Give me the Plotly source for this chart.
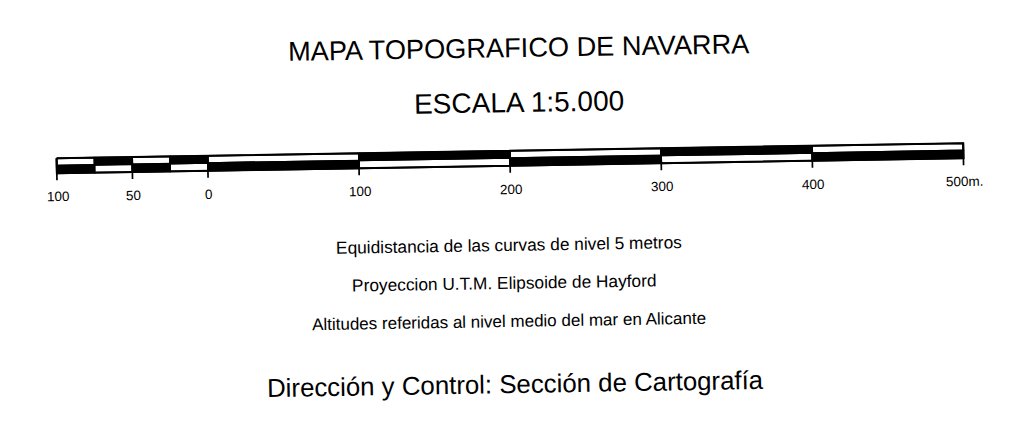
import math
import plotly.graph_objects as go

# ---------------- data ----------------
division_bounds = [-100, -75, -50, -25, 0, 100, 200, 300, 400, 500]
top_row_black = [0, 1, 0, 1, 0, 1, 0, 1, 0]          # bottom row is the opposite
tick_values = [-100, -50, 0, 100, 200, 300, 400, 500]
tick_labels = ["100", "50", "0", "100", "200", "300", "400", "500m."]

title_text = "MAPA TOPOGRAFICO DE NAVARRA"
scale_text = "ESCALA 1:5.000"
note_lines = [
    "Equidistancia de las curvas de nivel 5 metros",
    "Proyeccion U.T.M. Elipsoide de Hayford",
    "Altitudes referidas al nivel medio del mar en Alicante",
]
credit_text = "Dirección y Control: Sección de Cartografía"

# ---------------- geometry / style ----------------
W, H = 1023, 424
OFF = 8                      # page body margin of the html page
ANGLE_DEG = -0.95
TH = math.radians(ANGLE_DEG)
X0, Y0 = 207.7, 155.8        # pixel position of the "0" mark (top edge)
PX_PER_M = 1.5112
BAR_H, MID, TICK_LEN, LABEL_OFF = 15.0, 7.2, 22.0, 38.5

SANS = "Liberation Sans, Arial, Helvetica"


def to_px(m, v):
    u = m * PX_PER_M
    return (X0 + u * math.cos(TH) - v * math.sin(TH),
            Y0 + u * math.sin(TH) + v * math.cos(TH))


def cell(m0, m1, v0, v1):
    pts = [to_px(m0, v0), to_px(m1, v0), to_px(m1, v1), to_px(m0, v1), to_px(m0, v0)]
    return [p[0] for p in pts] + [None], [p[1] for p in pts] + [None]


black_x, black_y, white_x, white_y = [], [], [], []
for i, tb in enumerate(top_row_black):
    m0, m1 = division_bounds[i], division_bounds[i + 1]
    for (v0, v1, is_black) in [(0, MID, tb), (MID, BAR_H, 1 - tb)]:
        xs, ys = cell(m0, m1, v0, v1)
        if is_black:
            black_x += xs; black_y += ys
        else:
            white_x += xs; white_y += ys

tick_x, tick_y = [], []
for m in tick_values:
    a, b = to_px(m, 0), to_px(m, TICK_LEN)
    tick_x += [a[0], b[0], None]
    tick_y += [a[1], b[1], None]

ox, oy = cell(division_bounds[0], division_bounds[-1], 0, BAR_H)

fig = go.Figure()
fig.add_trace(go.Scatter(x=white_x, y=white_y, mode="lines", fill="toself",
                         fillcolor="white", line=dict(color="black", width=1.7),
                         hoverinfo="skip"))
fig.add_trace(go.Scatter(x=black_x, y=black_y, mode="lines", fill="toself",
                         fillcolor="black", line=dict(color="black", width=1.7),
                         hoverinfo="skip"))
fig.add_trace(go.Scatter(x=tick_x, y=tick_y, mode="lines",
                         line=dict(color="black", width=1.7), hoverinfo="skip"))
fig.add_trace(go.Scatter(x=ox, y=oy, mode="lines",
                         line=dict(color="black", width=2.0), hoverinfo="skip"))

annotations = []
for m, lab in zip(tick_values, tick_labels):
    px, py = to_px(m, LABEL_OFF)
    annotations.append(dict(x=px + 1, y=py, text=lab, showarrow=False,
                            xref="x", yref="y", textangle=ANGLE_DEG,
                            font=dict(family=SANS, size=13.5, color="black")))

texts = [
    (title_text, 519, 47, SANS, 27.2),
    (scale_text, 519, 102, SANS, 28),
    (note_lines[0], 508.5, 245, SANS, 17.3),
    (note_lines[1], 503.5, 283, SANS, 17.3),
    (note_lines[2], 508.5, 321, SANS, 17.0),
    (credit_text, 515, 384, SANS, 25.8),
]
for t, x, y, fam, sz in texts:
    annotations.append(dict(x=x, y=y, text=t, showarrow=False, xref="x", yref="y",
                            textangle=ANGLE_DEG,
                            font=dict(family=fam, size=sz, color="black")))

fig.update_layout(
    width=W, height=H, margin=dict(l=0, r=0, t=0, b=0),
    paper_bgcolor="white", plot_bgcolor="white", showlegend=False,
    xaxis=dict(range=[OFF, W + OFF], visible=False, fixedrange=True),
    yaxis=dict(range=[H + OFF, OFF], visible=False, fixedrange=True),
    annotations=annotations,
)
fig.write_html("out.html")
